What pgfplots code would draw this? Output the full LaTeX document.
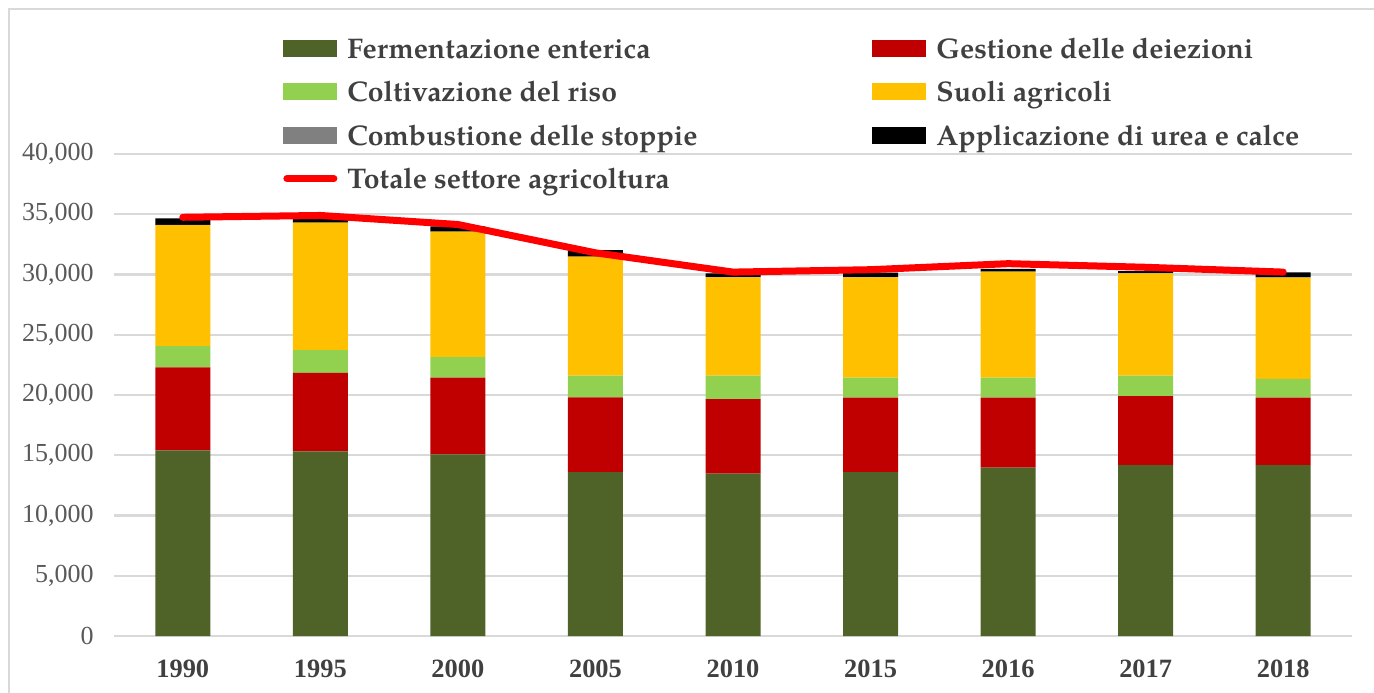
\documentclass[border=0pt]{standalone}
\usepackage{fontspec}
\setmainfont{Liberation Serif}
\newfontfamily\pal[Extension=.otf,UprightFont=*-regular,BoldFont=*-bold]{texgyrepagella}
\usepackage{pgfplots}
\pgfplotsset{compat=1.18}

\definecolor{ferm}{HTML}{4F6228}
\definecolor{gest}{HTML}{C00000}
\definecolor{riso}{HTML}{92D050}
\definecolor{suoli}{HTML}{FFC000}
\definecolor{comb}{HTML}{808080}
\definecolor{appl}{HTML}{000000}
\definecolor{totred}{HTML}{FF0000}
\definecolor{gridgray}{HTML}{D9D9D9}
\definecolor{ticktext}{HTML}{595959}
\definecolor{legtext}{HTML}{404040}

% values in kt CO2 eq
\pgfplotstableread{
x ferm gest riso suoli comb appl tot
0 15400 6900 1750 10050 15 545 34750
1 15330 6500 1900 10570 15 585 34900
2 15080 6360 1710 10400 15 435 34150
3 13600 6200 1800  9880 15 535 31800
4 13470 6180 1950  8170 15 315 30200
5 13600 6180 1660  8330 15 365 30400
6 13970 5810 1660  8790 15 215 30900
7 14190 5710 1700  8500 15 175 30600
8 14190 5590 1550  8410 15 425 30200
}\emissions

\pgfplotsset{
  swatch/.style={legend image code/.code={\fill[##1] (0pt,-4.25pt) rectangle (27pt,4.25pt);}},
}

\begin{document}
\begin{tikzpicture}
\begin{axis}[
  at={(57pt,-318pt)}, anchor=south west,
  scale only axis, width=619pt, height=241pt,
  xmin=-0.5, xmax=8.5, ymin=0, ymax=40000,
  ybar stacked, bar width=27.5pt,
  xtick={0,...,8},
  xticklabels={1990,1995,2000,2005,2010,2015,2016,2017,2018},
  ytick={0,5000,...,40000},
  scaled y ticks=false,
  /pgf/number format/fixed,
  /pgf/number format/1000 sep={,},
  /pgf/number format/assume math mode=true,
  yticklabel style={font=\fontsize{13}{13}\selectfont, text=ticktext, inner sep=0pt, xshift=-10pt},
  xticklabel style={font=\bfseries\fontsize{13.2}{13.2}\selectfont, text=legtext, inner sep=0pt, yshift=-12pt},
  axis line style={draw=none},
  major tick length=0pt,
  ymajorgrids, grid style={color=gridgray, line width=1.2pt},
  legend columns=2, legend cell align=left,
  legend style={at={(0.1365,1.2402)}, anchor=north west, draw=none, fill=none,
    inner sep=0pt, column sep=5pt, row sep=11.9pt,
    font=\pal\bfseries\fontsize{14.2}{14.2}\selectfont, text=legtext,
    nodes={inner sep=0pt, text height=9.8pt, text depth=0pt}},
  every axis plot/.append style={draw=none, swatch},
]
\addplot[fill=ferm] table[x=x, y=ferm] {\emissions};
\addlegendentry{\makebox[257.5pt][l]{Fermentazione enterica}}
\addplot[fill=gest] table[x=x, y=gest] {\emissions};
\addlegendentry{Gestione delle deiezioni}
\addplot[fill=riso] table[x=x, y=riso] {\emissions};
\addlegendentry{\makebox[257.5pt][l]{Coltivazione del riso}}
\addplot[fill=suoli] table[x=x, y=suoli] {\emissions};
\addlegendentry{Suoli agricoli}
\addplot[fill=comb] table[x=x, y=comb] {\emissions};
\addlegendentry{\makebox[257.5pt][l]{Combustione delle stoppie}}
\addplot[fill=appl] table[x=x, y=appl] {\emissions};
\addlegendentry{Applicazione di urea e calce}
\addlegendimage{legend image code/.code={\draw[totred, line width=3.5pt, line cap=round] (1.75pt,0pt) -- (25.25pt,0pt);}}
\addlegendentry{\makebox[257.5pt][l]{Totale settore agricoltura}}
\end{axis}

% total line on its own axis so it is not stacked
\begin{axis}[
  at={(57pt,-318pt)}, anchor=south west,
  scale only axis, width=619pt, height=241pt,
  xmin=-0.5, xmax=8.5, ymin=0, ymax=40000,
  hide axis,
]
\addplot[totred, line width=3.5pt, line cap=round, line join=round] table[x=x, y=tot] {\emissions};
\end{axis}

\draw[gridgray, line width=1pt] (4.5pt,-400pt) -- (4.5pt,-4.5pt) -- (700pt,-4.5pt);
\pgfresetboundingbox
\path[use as bounding box] (0pt,0pt) rectangle (687pt,-346pt);
\end{tikzpicture}
\end{document}
